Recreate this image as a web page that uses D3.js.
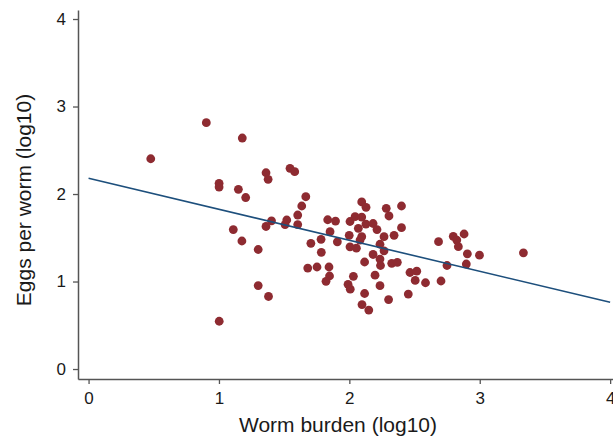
<!DOCTYPE html>
<html>
<head>
<meta charset="utf-8">
<script src="https://cdn.jsdelivr.net/npm/d3@7"></script>
<style>
  body { margin: 0; background: #fff; }
  text { font-family: "Liberation Sans", Arial, sans-serif; }
</style>
</head>
<body>
<div id="chart"></div>
<script>
"use strict";

// == DATA ==
var wormBurden = [
  0.477, 0.903, 1.179, 1.001, 1.001, 1.149, 1.205, 1.361, 1.377, 1.545,
  1.581, 1.666, 1.635, 1.604, 1.604, 1.520, 1.507, 1.403, 1.361, 1.110,
  1.176, 1.301, 1.301, 1.380, 1.002, 1.681, 1.705, 2.095, 2.128, 2.283,
  2.400, 2.304, 1.834, 1.894, 2.005, 2.044, 2.095, 2.127, 2.069, 2.182,
  2.212, 2.400, 1.852, 1.783, 1.908, 1.999, 2.095, 2.082, 2.266, 2.343,
  2.005, 2.054, 2.235, 2.266, 1.785, 2.182, 2.235, 2.117, 2.325, 2.368,
  1.752, 1.844, 1.848, 1.821, 2.031, 2.197, 1.990, 2.007, 2.235, 2.117,
  2.097, 2.149, 2.301, 2.452, 2.465, 2.517, 2.505, 2.584, 2.703, 2.239,
  2.684, 2.797, 2.824, 2.880, 2.836, 2.905, 2.998, 2.749, 2.897, 3.335
];
var eggsPerWorm = [
  2.403, 2.815, 2.640, 2.122, 2.080, 2.054, 1.960, 2.243, 2.168, 2.294,
  2.255, 1.969, 1.863, 1.760, 1.651, 1.703, 1.651, 1.694, 1.629, 1.594,
  1.463, 1.366, 0.954, 0.829, 0.546, 1.154, 1.437, 1.909, 1.848, 1.837,
  1.863, 1.749, 1.706, 1.691, 1.686, 1.741, 1.737, 1.657, 1.608, 1.663,
  1.594, 1.615, 1.569, 1.482, 1.454, 1.528, 1.512, 1.474, 1.512, 1.528,
  1.397, 1.381, 1.426, 1.351, 1.334, 1.309, 1.257, 1.223, 1.208, 1.219,
  1.166, 1.166, 1.063, 1.002, 1.059, 1.072, 0.968, 0.912, 0.952, 0.863,
  0.737, 0.674, 0.794, 0.857, 1.103, 1.118, 1.013, 0.986, 1.006, 1.183,
  1.455, 1.517, 1.474, 1.543, 1.398, 1.317, 1.301, 1.183, 1.200, 1.328
];
// fitted line end points
var fitX = [0, 4];
var fitY = [2.18, 0.763];
var xTicks = [0, 1, 2, 3, 4];
var yTicks = [0, 1, 2, 3, 4];

var points = wormBurden.map(function (d, i) {
  return { x: d, y: eggsPerWorm[i] };
});

// == BOILERPLATE ==
var width = 613, height = 437;

var svg = d3.select("#chart")
  .append("svg")
  .attr("width", width)
  .attr("height", height);

var x = d3.scaleLinear().domain([-0.081, 4.022]).range([78, 613]);
var y = d3.scaleLinear().domain([-0.114, 4.103]).range([379, 10]);

// == AXES ==
var xAxis = svg.append("g")
  .attr("transform", "translate(0," + y(-0.114) + ")")
  .call(d3.axisBottom(x).tickValues(xTicks).tickFormat(d3.format("d"))
    .tickSize(5).tickSizeOuter(0).tickPadding(8));

var yAxis = svg.append("g")
  .attr("transform", "translate(" + x(-0.081) + ",0)")
  .call(d3.axisLeft(y).tickValues(yTicks).tickFormat(d3.format("d"))
    .tickSize(5).tickSizeOuter(0).tickPadding(7));

[xAxis, yAxis].forEach(function (g) {
  g.select(".domain").attr("stroke", "#555").attr("stroke-width", 1.5);
  g.selectAll(".tick line").attr("stroke", "#555").attr("stroke-width", 1.3);
  g.selectAll(".tick text")
    .attr("fill", "#1a1a1a")
    .style("font-size", "17px")
    .style("font-family", "'Liberation Sans', Arial, sans-serif");
});

// == TITLES ==
svg.append("text")
  .attr("x", 338)
  .attr("y", 432)
  .attr("text-anchor", "middle")
  .attr("fill", "#1a1a1a")
  .style("font-size", "21px")
  .text("Worm burden (log10)");

svg.append("text")
  .attr("transform", "translate(31,200) rotate(-90)")
  .attr("text-anchor", "middle")
  .attr("fill", "#1a1a1a")
  .style("font-size", "21px")
  .text("Eggs per worm (log10)");

// == POINTS ==
svg.selectAll("circle.pt")
  .data(points)
  .enter()
  .append("circle")
  .attr("class", "pt")
  .attr("cx", function (d) { return x(d.x); })
  .attr("cy", function (d) { return y(d.y); })
  .attr("r", 4.4)
  .attr("fill", "#8e2b31");

// == FIT LINE ==
svg.append("path")
  .datum(fitX.map(function (d, i) { return [d, fitY[i]]; }))
  .attr("d", d3.line()
    .x(function (d) { return x(d[0]); })
    .y(function (d) { return y(d[1]); }))
  .attr("fill", "none")
  .attr("stroke", "#1d4f7c")
  .attr("stroke-width", 1.6);
</script>
</body>
</html>
